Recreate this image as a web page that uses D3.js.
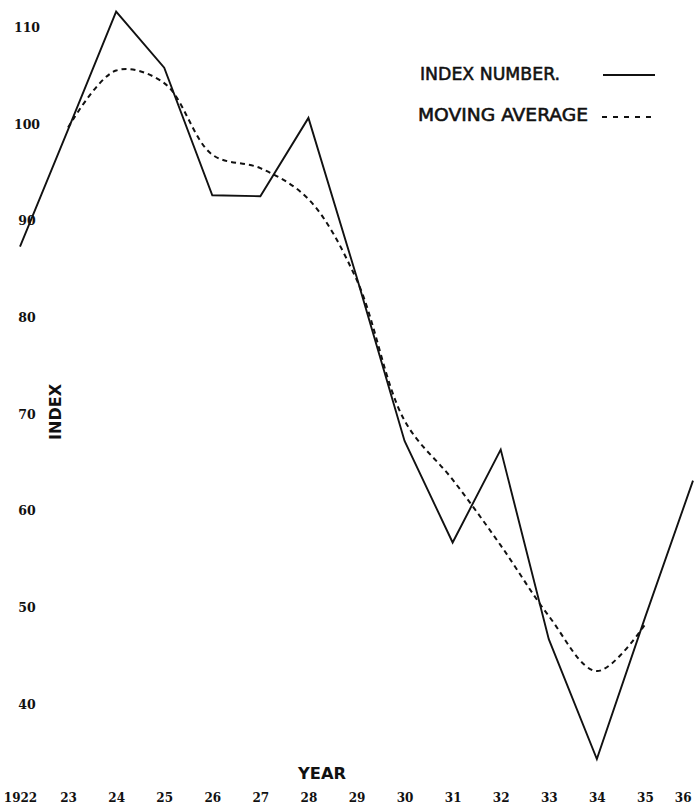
<!DOCTYPE html>
<html>
<head>
<meta charset="utf-8">
<script src="https://cdn.jsdelivr.net/npm/d3@7"></script>
<style>
  html, body { margin: 0; padding: 0; background: #fff; }
  svg { display: block; }
</style>
</head>
<body>
<svg id="chart" width="694" height="808"></svg>
<script>
// ---- data ----
const years = [1922, 1923, 1924, 1925, 1926, 1927, 1928, 1929, 1930, 1931, 1932, 1933, 1934, 1935, 1936];
const indexNumber = [87.3, 99.4, 111.6, 105.8, 92.6, 92.5, 100.6, 84.2, 67.2, 56.7, 66.3, 46.7, 34.3, 48.9, 63.1];
const maYears = [1923, 1924, 1925, 1926, 1927, 1928, 1929, 1930, 1931, 1932, 1933, 1934, 1935];
const movingAverage = [99.6, 105.5, 104.2, 96.8, 95.4, 92.2, 83.9, 69.3, 63.2, 56.4, 49.1, 43.4, 48.2];
const yTicks = [40, 50, 60, 70, 80, 90, 100, 110];
const xTickLabels = ["1922", "23", "24", "25", "26", "27", "28", "29", "30", "31", "32", "33", "34", "35", "36"];
const legendLabels = ["INDEX NUMBER.", "MOVING AVERAGE"];

const ink = "#111";
const svg = d3.select("#chart");

const x = d3.scaleLinear().domain([1922, 1936]).range([20, 693]);
const y = d3.scaleLinear().domain([40, 110]).range([704, 27]);

// ---- y axis (labels only) ----
const yAxis = svg.append("g")
  .call(d3.axisLeft(y).tickValues(yTicks).tickSize(0).tickFormat(d3.format("d")));
yAxis.select(".domain").remove();
yAxis.selectAll("text")
  .attr("x", 27).attr("dy", "0.35em")
  .attr("text-anchor", "middle")
  .attr("fill", ink)
  .style("font-family", "'DejaVu Serif', 'Liberation Serif', serif")
  .style("font-weight", "bold")
  .style("font-size", "12.5px");

// ---- x axis (labels only) ----
const xAxis = svg.append("g")
  .attr("transform", "translate(0,798)")
  .call(d3.axisBottom(x).tickValues(years).tickSize(0)
    .tickFormat((d, i) => xTickLabels[i]));
xAxis.select(".domain").remove();
xAxis.selectAll("text")
  .attr("y", 0).attr("dy", "0.35em")
  .attr("fill", ink)
  .attr("text-anchor", (d, i) => i === years.length - 1 ? "end" : "middle")
  .attr("dx", (d, i) => i === years.length - 1 ? -2 : 0)
  .style("font-family", "'DejaVu Serif', 'Liberation Serif', serif")
  .style("font-weight", "bold")
  .style("font-size", "12px");

// ---- axis titles ----
svg.append("text")
  .attr("x", 322).attr("y", 779)
  .attr("text-anchor", "middle")
  .attr("fill", ink)
  .attr("textLength", 48).attr("lengthAdjust", "spacingAndGlyphs")
  .style("font-family", "'DejaVu Sans', 'Liberation Sans', sans-serif")
  .style("font-weight", "bold")
  .style("font-size", "16px")
  .text("YEAR");

svg.append("text")
  .attr("transform", "translate(56,412) rotate(-90)")
  .attr("text-anchor", "middle").attr("dy", "0.35em")
  .attr("fill", ink)
  .attr("textLength", 56).attr("lengthAdjust", "spacingAndGlyphs")
  .style("font-family", "'DejaVu Sans', 'Liberation Sans', sans-serif")
  .style("font-weight", "bold")
  .style("font-size", "15px")
  .text("INDEX");

// ---- lines ----
const indexData = years.map((yr, i) => ({ yr, v: indexNumber[i] }));
const maData = maYears.map((yr, i) => ({ yr, v: movingAverage[i] }));

svg.append("path")
  .datum(indexData)
  .attr("fill", "none")
  .attr("stroke", ink)
  .attr("stroke-width", 1.9)
  .attr("stroke-linejoin", "miter")
  .attr("d", d3.line().x(d => x(d.yr)).y(d => y(d.v)));

svg.append("path")
  .datum(maData)
  .attr("fill", "none")
  .attr("stroke", ink)
  .attr("stroke-width", 2)
  .attr("stroke-dasharray", "5,4")
  .attr("d", d3.line().curve(d3.curveCatmullRom.alpha(0.5)).x(d => x(d.yr)).y(d => y(d.v)));

// ---- legend ----
const legendFont = "'DejaVu Sans Condensed', 'Liberation Sans Narrow', 'Liberation Sans', sans-serif";
svg.append("text")
  .attr("x", 420).attr("y", 80)
  .attr("fill", ink)
  .attr("stroke", ink).attr("stroke-width", 0.5)
  .attr("textLength", 140).attr("lengthAdjust", "spacingAndGlyphs")
  .style("font-family", legendFont)
  .style("font-size", "17px")
  .text(legendLabels[0]);
svg.append("text")
  .attr("x", 418).attr("y", 121)
  .attr("fill", ink)
  .attr("stroke", ink).attr("stroke-width", 0.5)
  .attr("textLength", 170).attr("lengthAdjust", "spacingAndGlyphs")
  .style("font-family", legendFont)
  .style("font-size", "17px")
  .text(legendLabels[1]);

svg.append("line")
  .attr("x1", 603).attr("x2", 655).attr("y1", 75).attr("y2", 75)
  .attr("stroke", ink).attr("stroke-width", 2);
svg.append("line")
  .attr("x1", 602).attr("x2", 657).attr("y1", 117).attr("y2", 117)
  .attr("stroke", ink).attr("stroke-width", 2)
  .attr("stroke-dasharray", "5,6");
</script>
</body>
</html>
